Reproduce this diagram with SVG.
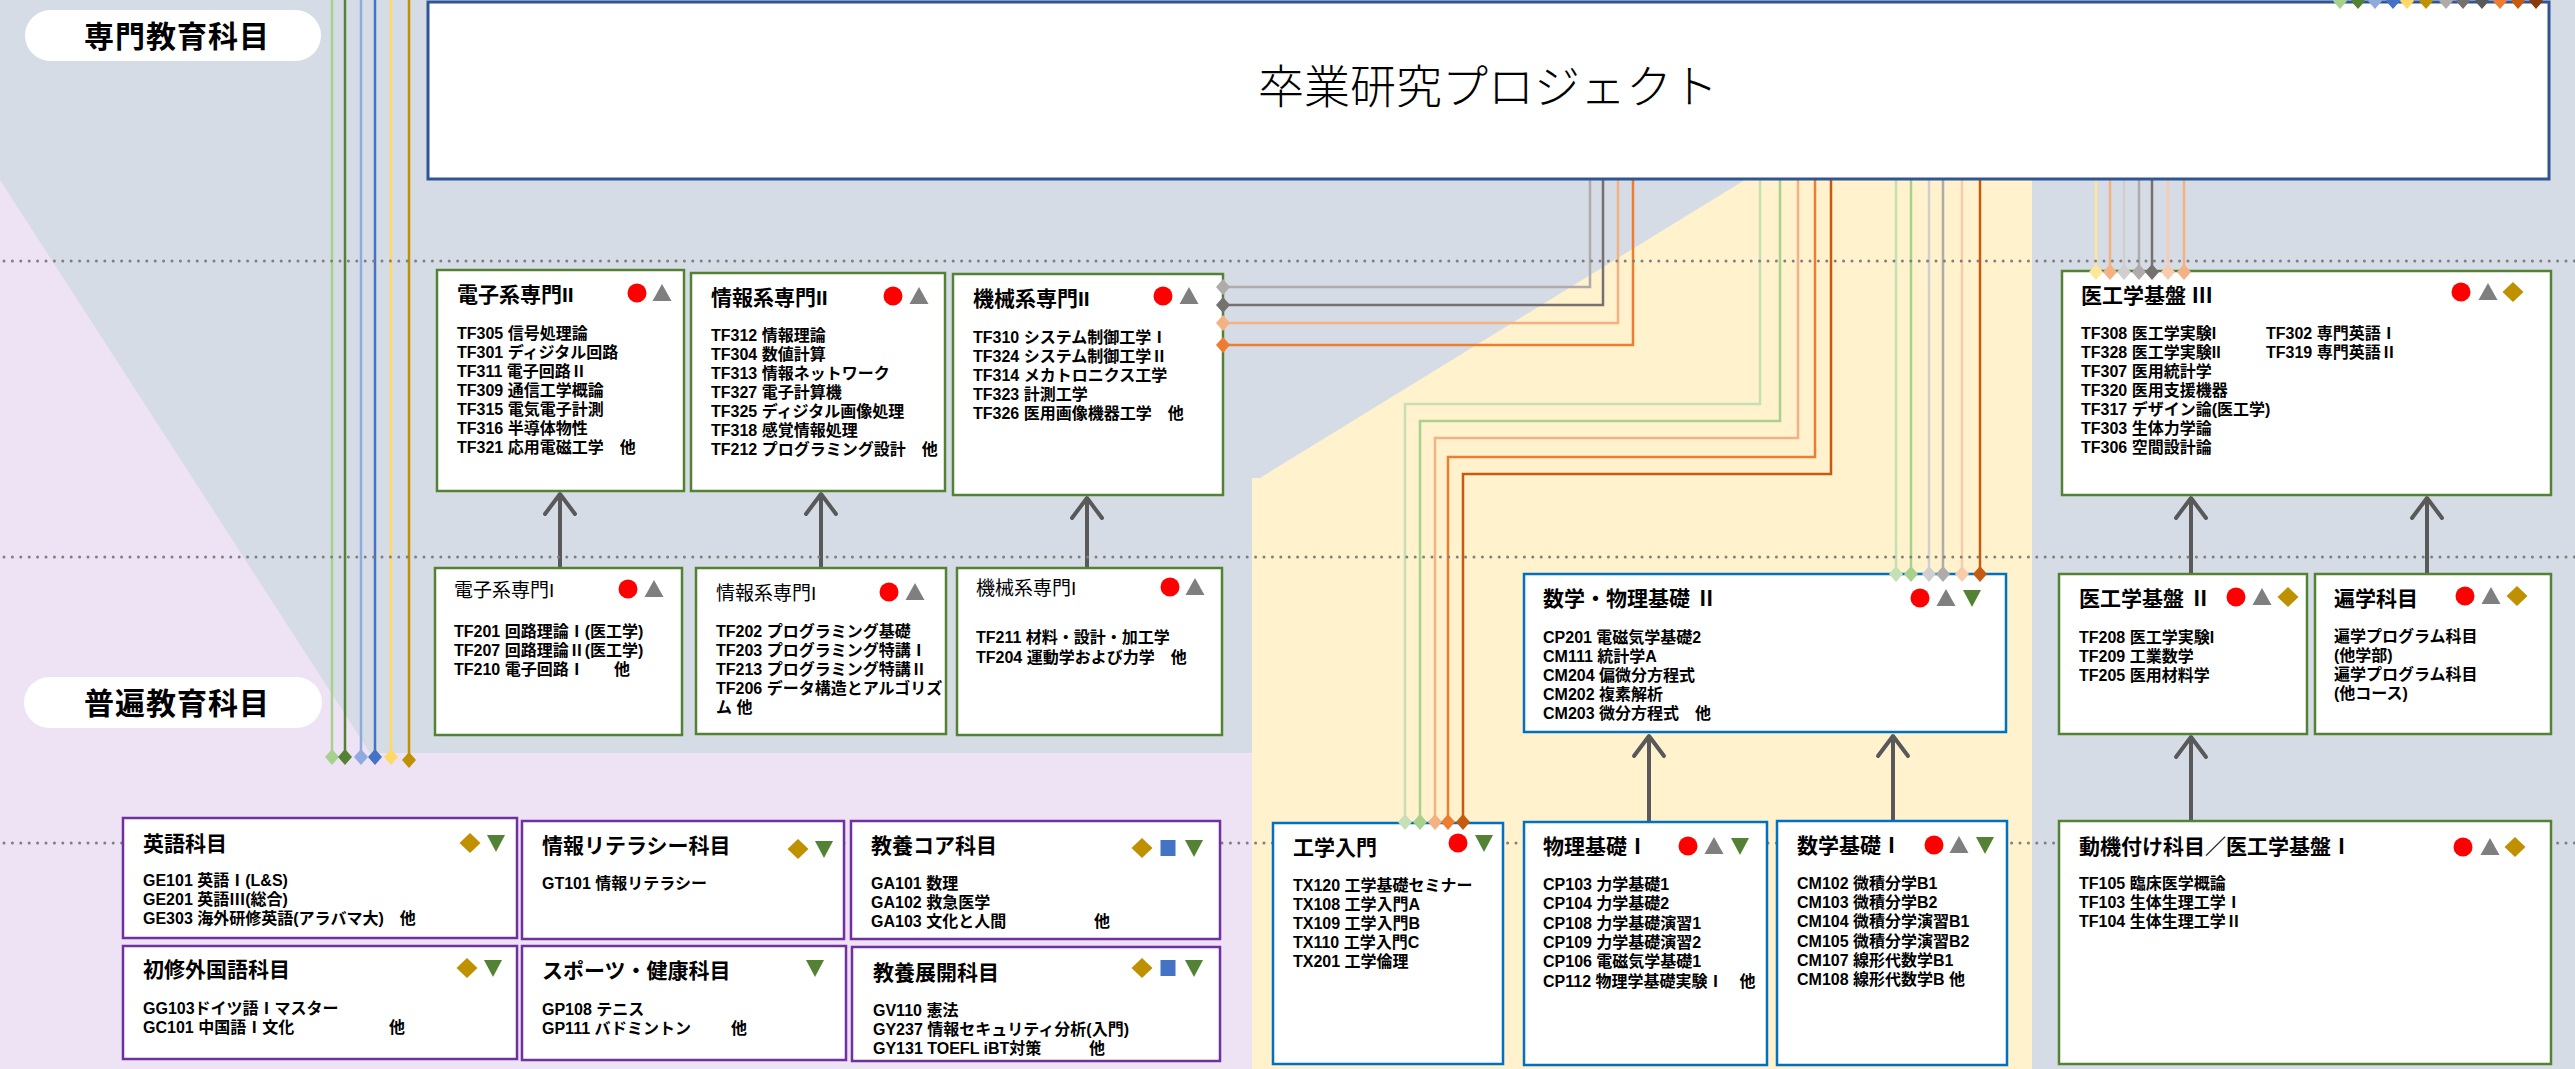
<svg xmlns="http://www.w3.org/2000/svg" xmlns:xlink="http://www.w3.org/1999/xlink" width="2575" height="1069" viewBox="0 0 2575 1069">
<style>
.box{fill:#fff;stroke-width:2.5}
.g{stroke:#548235}.b{stroke:#0070C0}.p{stroke:#7030A0}
text{font-family:"Liberation Sans","Noto Sans CJK JP",sans-serif;fill:#000}
.t{font-size:21px;font-weight:bold}
.tr{font-size:19px;font-weight:normal}
.i{font-size:16px;font-weight:bold}
.lab{font-size:30px;font-weight:bold;text-anchor:middle;letter-spacing:1px}
.dot{fill:none;stroke:#7F7F7F;stroke-width:3;stroke-dasharray:0 8.4;stroke-linecap:round}
.arr{stroke:#595959;stroke-width:4;fill:none}
</style>
<defs>
<marker id="ah" markerUnits="userSpaceOnUse" viewBox="-26 -20 30 40" markerWidth="30" markerHeight="40" refX="0" refY="0" orient="auto" overflow="visible">
<path d="M-20,-15 L0,0 L-20,15" fill="none" stroke="#595959" stroke-width="4" stroke-linecap="round" stroke-linejoin="round"/>
</marker>
<circle id="mc" r="9.5" fill="#FF0000"/>
<path id="mt" d="M0,-9 L9.5,8 L-9.5,8Z" fill="#7F7F7F"/>
<path id="md" d="M0,-10 L10.5,0 L0,10 L-10.5,0Z" fill="#BF9000"/>
<path id="mv" d="M-9,-8 L9,-8 L0,9Z" fill="#548235"/>
<rect id="ms" x="-7.5" y="-8" width="15" height="16" fill="#4472C4"/>
<path id="cd" d="M0,-8 L7,0 L0,8 L-7,0Z"/>
</defs>

<!-- backgrounds -->
<rect x="0" y="0" width="2575" height="1069" fill="#D6DCE5"/>
<polygon points="0,180 370,753 1252,753 1252,1069 0,1069" fill="#EEE2F5"/>
<polygon points="1748,178 2032,178 2032,1069 1252,1069 1252,478 1260,478" fill="#FFF2CC"/>

<!-- section labels -->
<g id="label-senmon">
<rect x="25" y="10" width="296" height="51" rx="25.5" fill="#fff"/>
<text class="lab" x="177" y="47">専門教育科目</text>
</g>
<g id="label-fuhen">
<rect x="24" y="677" width="298" height="51" rx="25.5" fill="#fff"/>
<text class="lab" x="177" y="714">普遍教育科目</text>
</g>

<!-- connectors -->
<g id="connectors" fill="none" stroke-width="2.5">
<path d="M332,0 V757" stroke="#A9D18E"/>
<path d="M345,0 V757" stroke="#548235"/>
<path d="M361,0 V757" stroke="#8FAADC"/>
<path d="M375,0 V757" stroke="#4472C4"/>
<path d="M391,0 V757" stroke="#FFD966"/>
<path d="M409,0 V760" stroke="#BF9000"/>
<path d="M1590,180 V287 H1223" stroke="#AFABAB"/>
<path d="M1603,180 V305 H1223" stroke="#767171"/>
<path d="M1618,180 V323 H1223" stroke="#F4B183"/>
<path d="M1633,180 V345 H1223" stroke="#ED7D31"/>
<path d="M1760,180 V404 H1405 V822" stroke="#C5E0B4"/>
<path d="M1780,180 V421 H1420 V822" stroke="#A9D18E"/>
<path d="M1798,180 V438 H1435 V822" stroke="#F4B183"/>
<path d="M1815,180 V457 H1448 V822" stroke="#ED7D31"/>
<path d="M1831,180 V474 H1463 V822" stroke="#C55A11"/>
<path d="M1896,180 V574" stroke="#C5E0B4"/>
<path d="M1911,180 V574" stroke="#A9D18E"/>
<path d="M1929,180 V574" stroke="#D0CECE"/>
<path d="M1943,180 V574" stroke="#AFABAB"/>
<path d="M1962,180 V574" stroke="#F8CBAD"/>
<path d="M1980,180 V574" stroke="#C55A11"/>
<path d="M2096,180 V272" stroke="#FFE699"/>
<path d="M2110,180 V272" stroke="#F4B183"/>
<path d="M2124,180 V272" stroke="#D0CECE"/>
<path d="M2139,180 V272" stroke="#AFABAB"/>
<path d="M2152,180 V272" stroke="#767171"/>
<path d="M2168,180 V272" stroke="#F8CBAD"/>
<path d="M2184,180 V272" stroke="#F4B183"/>
<line class="arr" x1="560" y1="568" x2="560" y2="494" marker-end="url(#ah)"/>
<line class="arr" x1="821" y1="568" x2="821" y2="494" marker-end="url(#ah)"/>
<line class="arr" x1="1087" y1="568" x2="1087" y2="498" marker-end="url(#ah)"/>
<line class="arr" x1="1649" y1="822" x2="1649" y2="736" marker-end="url(#ah)"/>
<line class="arr" x1="1893" y1="821" x2="1893" y2="736" marker-end="url(#ah)"/>
<line class="arr" x1="2191" y1="574" x2="2191" y2="498" marker-end="url(#ah)"/>
<line class="arr" x1="2427" y1="574" x2="2427" y2="498" marker-end="url(#ah)"/>
<line class="arr" x1="2191" y1="821" x2="2191" y2="737" marker-end="url(#ah)"/>
</g>

<!-- dotted level lines -->
<g id="levels">
<line class="dot" x1="4" y1="261" x2="2575" y2="261"/>
<line class="dot" x1="4" y1="557" x2="2575" y2="557"/>
<line class="dot" x1="4" y1="843" x2="2575" y2="843"/>
</g>

<!-- graduation project -->
<g id="n-sotsuken">
<rect x="428" y="2" width="2121" height="177" fill="#fff" stroke="#2F5597" stroke-width="3"/>
<text x="1488" y="103" text-anchor="middle" style="font-size:46px;font-weight:300;font-family:'Noto Sans CJK JP',sans-serif">卒業研究プロジェクト</text>
</g>

<!-- specialised II -->
<g id="n-denshi2">
<rect class="box g" x="437" y="270" width="247" height="221"/>
<text class="t" x="457" y="302">電子系専門II</text>
<use href="#mc" x="637" y="293"/><use href="#mt" x="662" y="293"/>
<text class="i"><tspan x="457" y="339">TF305 信号処理論</tspan><tspan x="457" dy="19">TF301 ディジタル回路</tspan><tspan x="457" dy="19">TF311 電子回路Ⅱ</tspan><tspan x="457" dy="19">TF309 通信工学概論</tspan><tspan x="457" dy="19">TF315 電気電子計測</tspan><tspan x="457" dy="19">TF316 半導体物性</tspan><tspan x="457" dy="19">TF321 応用電磁工学　他</tspan></text>
</g>
<g id="n-joho2">
<rect class="box g" x="691" y="273" width="254" height="218"/>
<text class="t" x="711" y="305">情報系専門II</text>
<use href="#mc" x="893" y="296"/><use href="#mt" x="919" y="296"/>
<text class="i"><tspan x="711" y="341">TF312 情報理論</tspan><tspan x="711" dy="19">TF304 数値計算</tspan><tspan x="711" dy="19">TF313 情報ネットワーク</tspan><tspan x="711" dy="19">TF327 電子計算機</tspan><tspan x="711" dy="19">TF325 ディジタル画像処理</tspan><tspan x="711" dy="19">TF318 感覚情報処理</tspan><tspan x="711" dy="19">TF212 プログラミング設計　他</tspan></text>
</g>
<g id="n-kikai2">
<rect class="box g" x="953" y="274" width="270" height="221"/>
<text class="t" x="973" y="306">機械系専門II</text>
<use href="#mc" x="1163" y="296"/><use href="#mt" x="1189" y="296"/>
<text class="i"><tspan x="973" y="343">TF310 システム制御工学Ⅰ</tspan><tspan x="973" dy="19">TF324 システム制御工学Ⅱ</tspan><tspan x="973" dy="19">TF314 メカトロニクス工学</tspan><tspan x="973" dy="19">TF323 計測工学</tspan><tspan x="973" dy="19">TF326 医用画像機器工学　他</tspan></text>
</g>

<!-- specialised I -->
<g id="n-denshi1">
<rect class="box g" x="435" y="568" width="247" height="167"/>
<text class="tr" x="454" y="597">電子系専門I</text>
<use href="#mc" x="628" y="589"/><use href="#mt" x="654" y="589"/>
<text class="i"><tspan x="454" y="637">TF201 回路理論Ⅰ(医工学)</tspan><tspan x="454" dy="19">TF207 回路理論Ⅱ(医工学)</tspan><tspan x="454" dy="19">TF210 電子回路Ⅰ</tspan><tspan x="614">他</tspan></text>
</g>
<g id="n-joho1">
<rect class="box g" x="696" y="568" width="250" height="166"/>
<text class="tr" x="716" y="600">情報系専門I</text>
<use href="#mc" x="889" y="592"/><use href="#mt" x="915" y="592"/>
<text class="i"><tspan x="716" y="637">TF202 プログラミング基礎</tspan><tspan x="716" dy="19">TF203 プログラミング特講Ⅰ</tspan><tspan x="716" dy="19">TF213 プログラミング特講Ⅱ</tspan><tspan x="716" dy="19">TF206 データ構造とアルゴリズ</tspan><tspan x="716" dy="19">ム 他</tspan></text>
</g>
<g id="n-kikai1">
<rect class="box g" x="957" y="568" width="265" height="167"/>
<text class="tr" x="976" y="595">機械系専門I</text>
<use href="#mc" x="1170" y="587"/><use href="#mt" x="1195" y="587"/>
<text class="i"><tspan x="976" y="643">TF211 材料・設計・加工学</tspan><tspan x="976" dy="20">TF204 運動学および力学　他</tspan></text>
</g>

<!-- medical engineering -->
<g id="n-ikou3">
<rect class="box g" x="2062" y="271" width="489" height="224"/>
<text class="t" x="2081" y="303">医工学基盤 Ⅲ</text>
<use href="#mc" x="2461" y="292"/><use href="#mt" x="2488" y="292"/><use href="#md" x="2513" y="292"/>
<text class="i"><tspan x="2081" y="339">TF308 医工学実験I</tspan><tspan x="2081" dy="19">TF328 医工学実験II</tspan><tspan x="2081" dy="19">TF307 医用統計学</tspan><tspan x="2081" dy="19">TF320 医用支援機器</tspan><tspan x="2081" dy="19">TF317 デザイン論(医工学)</tspan><tspan x="2081" dy="19">TF303 生体力学論</tspan><tspan x="2081" dy="19">TF306 空間設計論</tspan></text>
<text class="i"><tspan x="2266" y="339">TF302 専門英語Ⅰ</tspan><tspan x="2266" dy="19">TF319 専門英語Ⅱ</tspan></text>
</g>
<g id="n-ikou2">
<rect class="box g" x="2059" y="574" width="248" height="160"/>
<text class="t" x="2079" y="606">医工学基盤 Ⅱ</text>
<use href="#mc" x="2236" y="597"/><use href="#mt" x="2262" y="597"/><use href="#md" x="2288" y="597"/>
<text class="i"><tspan x="2079" y="643">TF208 医工学実験I</tspan><tspan x="2079" dy="19">TF209 工業数学</tspan><tspan x="2079" dy="19">TF205 医用材料学</tspan></text>
</g>
<g id="n-hengaku">
<rect class="box g" x="2315" y="574" width="236" height="160"/>
<text class="t" x="2334" y="606">遍学科目</text>
<use href="#mc" x="2465" y="596"/><use href="#mt" x="2491" y="596"/><use href="#md" x="2517" y="596"/>
<text class="i"><tspan x="2334" y="642">遍学プログラム科目</tspan><tspan x="2334" dy="19">(他学部)</tspan><tspan x="2334" dy="19">遍学プログラム科目</tspan><tspan x="2334" dy="19">(他コース)</tspan></text>
</g>
<g id="n-douki">
<rect class="box g" x="2059" y="821" width="492" height="243"/>
<text class="t" x="2079" y="854">動機付け科目／医工学基盤Ⅰ</text>
<use href="#mc" x="2463" y="847"/><use href="#mt" x="2490" y="847"/><use href="#md" x="2515" y="847"/>
<text class="i"><tspan x="2079" y="889">TF105 臨床医学概論</tspan><tspan x="2079" dy="19">TF103 生体生理工学Ⅰ</tspan><tspan x="2079" dy="19">TF104 生体生理工学Ⅱ</tspan></text>
</g>

<!-- math / physics -->
<g id="n-suributsu2">
<rect class="box b" x="1524" y="574" width="482" height="158"/>
<text class="t" x="1543" y="606">数学・物理基礎 Ⅱ</text>
<use href="#mc" x="1920" y="598"/><use href="#mt" x="1946" y="598"/><use href="#mv" x="1972" y="598"/>
<text class="i"><tspan x="1543" y="643">CP201 電磁気学基礎2</tspan><tspan x="1543" dy="19">CM111 統計学A</tspan><tspan x="1543" dy="19">CM204 偏微分方程式</tspan><tspan x="1543" dy="19">CM202 複素解析</tspan><tspan x="1543" dy="19">CM203 微分方程式　他</tspan></text>
</g>
<g id="n-kogaku">
<rect class="box b" x="1273" y="823" width="230" height="241"/>
<text class="t" x="1293" y="855">工学入門</text>
<use href="#mc" x="1458" y="843"/><use href="#mv" x="1484" y="843"/>
<text class="i"><tspan x="1293" y="891">TX120 工学基礎セミナー</tspan><tspan x="1293" dy="19">TX108 工学入門A</tspan><tspan x="1293" dy="19">TX109 工学入門B</tspan><tspan x="1293" dy="19">TX110 工学入門C</tspan><tspan x="1293" dy="19">TX201 工学倫理</tspan></text>
</g>
<g id="n-butsuri1">
<rect class="box b" x="1524" y="822" width="243" height="243"/>
<text class="t" x="1543" y="854">物理基礎Ⅰ</text>
<use href="#mc" x="1688" y="846"/><use href="#mt" x="1714" y="846"/><use href="#mv" x="1740" y="846"/>
<text class="i"><tspan x="1543" y="890">CP103 力学基礎1</tspan><tspan x="1543" dy="19.3">CP104 力学基礎2</tspan><tspan x="1543" dy="19.3">CP108 力学基礎演習1</tspan><tspan x="1543" dy="19.3">CP109 力学基礎演習2</tspan><tspan x="1543" dy="19.3">CP106 電磁気学基礎1</tspan><tspan x="1543" dy="19.3">CP112 物理学基礎実験Ⅰ　他</tspan></text>
</g>
<g id="n-sugaku1">
<rect class="box b" x="1777" y="821" width="230" height="244"/>
<text class="t" x="1797" y="853">数学基礎Ⅰ</text>
<use href="#mc" x="1934" y="845"/><use href="#mt" x="1959" y="845"/><use href="#mv" x="1985" y="845"/>
<text class="i"><tspan x="1797" y="889">CM102 微積分学B1</tspan><tspan x="1797" dy="19.2">CM103 微積分学B2</tspan><tspan x="1797" dy="19.2">CM104 微積分学演習B1</tspan><tspan x="1797" dy="19.2">CM105 微積分学演習B2</tspan><tspan x="1797" dy="19.2">CM107 線形代数学B1</tspan><tspan x="1797" dy="19.2">CM108 線形代数学B 他</tspan></text>
</g>

<!-- general education -->
<g id="n-eigo">
<rect class="box p" x="123" y="818" width="394" height="120"/>
<text class="t" x="143" y="851">英語科目</text>
<use href="#md" x="470" y="843"/><use href="#mv" x="496" y="843"/>
<text class="i"><tspan x="143" y="886">GE101 英語Ⅰ(L&amp;S)</tspan><tspan x="143" dy="19">GE201 英語Ⅲ(総合)</tspan><tspan x="143" dy="19">GE303 海外研修英語(アラバマ大)　他</tspan></text>
</g>
<g id="n-shoshu">
<rect class="box p" x="123" y="946" width="394" height="113"/>
<text class="t" x="143" y="977">初修外国語科目</text>
<use href="#md" x="467" y="968"/><use href="#mv" x="493" y="968"/>
<text class="i"><tspan x="143" y="1014">GG103ドイツ語Ⅰマスター</tspan><tspan x="143" dy="19">GC101 中国語Ⅰ文化</tspan><tspan x="389">他</tspan></text>
</g>
<g id="n-literacy">
<rect class="box p" x="522" y="821" width="322" height="118"/>
<text class="t" x="542" y="853">情報リテラシー科目</text>
<use href="#md" x="798" y="849"/><use href="#mv" x="824" y="849"/>
<text class="i" x="542" y="889">GT101 情報リテラシー</text>
</g>
<g id="n-sports">
<rect class="box p" x="522" y="946" width="324" height="114"/>
<text class="t" x="542" y="978">スポーツ・健康科目</text>
<use href="#mv" x="815" y="968"/>
<text class="i"><tspan x="542" y="1015">GP108 テニス</tspan><tspan x="542" dy="19">GP111 バドミントン</tspan><tspan x="731">他</tspan></text>
</g>
<g id="n-core">
<rect class="box p" x="851" y="821" width="369" height="118"/>
<text class="t" x="871" y="853">教養コア科目</text>
<use href="#md" x="1142" y="848"/><use href="#ms" x="1168" y="848"/><use href="#mv" x="1194" y="848"/>
<text class="i"><tspan x="871" y="889">GA101 数理</tspan><tspan x="871" dy="19">GA102 救急医学</tspan><tspan x="871" dy="19">GA103 文化と人間</tspan><tspan x="1094">他</tspan></text>
</g>
<g id="n-tenkai">
<rect class="box p" x="852" y="947" width="368" height="114"/>
<text class="t" x="873" y="980">教養展開科目</text>
<use href="#md" x="1142" y="968"/><use href="#ms" x="1168" y="968"/><use href="#mv" x="1194" y="968"/>
<text class="i"><tspan x="873" y="1016">GV110 憲法</tspan><tspan x="873" dy="19">GY237 情報セキュリティ分析(入門)</tspan><tspan x="873" dy="19">GY131 TOEFL iBT対策</tspan><tspan x="1089">他</tspan></text>
</g>

<!-- connector end markers -->
<g id="connector-ends">
<use href="#cd" x="332" y="757" fill="#A9D18E"/>
<use href="#cd" x="345" y="757" fill="#548235"/>
<use href="#cd" x="361" y="757" fill="#8FAADC"/>
<use href="#cd" x="375" y="757" fill="#4472C4"/>
<use href="#cd" x="391" y="757" fill="#FFD966"/>
<use href="#cd" x="409" y="760" fill="#BF9000"/>
<use href="#cd" x="1223" y="287" fill="#AFABAB"/>
<use href="#cd" x="1223" y="305" fill="#767171"/>
<use href="#cd" x="1223" y="323" fill="#F4B183"/>
<use href="#cd" x="1223" y="345" fill="#ED7D31"/>
<use href="#cd" x="1405" y="822" fill="#C5E0B4"/>
<use href="#cd" x="1420" y="822" fill="#A9D18E"/>
<use href="#cd" x="1435" y="822" fill="#F4B183"/>
<use href="#cd" x="1448" y="822" fill="#ED7D31"/>
<use href="#cd" x="1463" y="822" fill="#C55A11"/>
<use href="#cd" x="1896" y="574" fill="#C5E0B4"/>
<use href="#cd" x="1911" y="574" fill="#A9D18E"/>
<use href="#cd" x="1929" y="574" fill="#D0CECE"/>
<use href="#cd" x="1943" y="574" fill="#AFABAB"/>
<use href="#cd" x="1962" y="574" fill="#F8CBAD"/>
<use href="#cd" x="1980" y="574" fill="#C55A11"/>
<use href="#cd" x="2096" y="272" fill="#FFE699"/>
<use href="#cd" x="2110" y="272" fill="#F4B183"/>
<use href="#cd" x="2124" y="272" fill="#D0CECE"/>
<use href="#cd" x="2139" y="272" fill="#AFABAB"/>
<use href="#cd" x="2152" y="272" fill="#767171"/>
<use href="#cd" x="2168" y="272" fill="#F8CBAD"/>
<use href="#cd" x="2184" y="272" fill="#F4B183"/>
<use href="#cd" x="2340" y="1" fill="#A9D18E"/>
<use href="#cd" x="2358" y="1" fill="#548235"/>
<use href="#cd" x="2375" y="1" fill="#8FAADC"/>
<use href="#cd" x="2393" y="1" fill="#4472C4"/>
<use href="#cd" x="2407" y="1" fill="#FFD966"/>
<use href="#cd" x="2426" y="1" fill="#BF9000"/>
<use href="#cd" x="2446" y="1" fill="#AFABAB"/>
<use href="#cd" x="2463" y="1" fill="#767171"/>
<use href="#cd" x="2482" y="1" fill="#595959"/>
<use href="#cd" x="2500" y="1" fill="#ED7D31"/>
<use href="#cd" x="2518" y="1" fill="#C55A11"/>
<use href="#cd" x="2536" y="1" fill="#843C0C"/>
</g>
</svg>
